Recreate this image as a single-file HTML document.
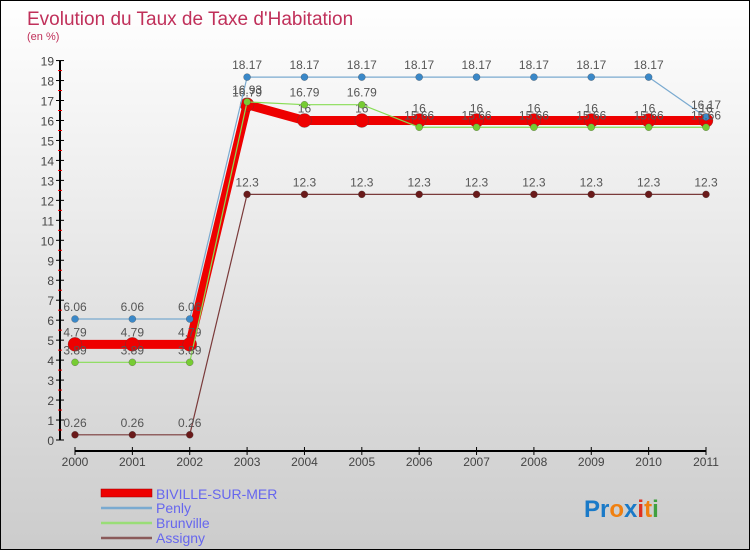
<!DOCTYPE html>
<html><head><meta charset="utf-8"><style>
body{margin:0;}
#c{position:relative;width:748px;height:548px;border:1px solid #000;background:linear-gradient(#fff,#ccc);font-family:"Liberation Sans",sans-serif;overflow:hidden}
</style></head><body>
<div id="c">
<svg id="s" width="748" height="548" xmlns="http://www.w3.org/2000/svg">
<text x="26" y="24" font-size="19" fill="#c0305a">Evolution du Taux de Taxe d'Habitation</text>
<text x="26" y="39" font-size="11" fill="#c0305a">(en %)</text>
<g id="g"></g>
<g>
<rect x="100" y="488" width="51" height="8" fill="#e00" stroke="#900" stroke-width="0.5"/>
<text x="155" y="498" font-size="14" fill="#6666ee">BIVILLE-SUR-MER</text>
<line x1="100" y1="507" x2="151" y2="507" stroke="#7aaad0" stroke-width="2.5"/>
<text x="155" y="512" font-size="14" fill="#6666ee">Penly</text>
<line x1="100" y1="522" x2="151" y2="522" stroke="#99dd77" stroke-width="2.5"/>
<text x="155" y="527" font-size="14" fill="#6666ee">Brunville</text>
<line x1="100" y1="537" x2="151" y2="537" stroke="#8a5a5a" stroke-width="2.5"/>
<text x="155" y="542" font-size="14" fill="#6666ee">Assigny</text>
</g>
<text x="583" y="516" font-size="24" font-weight="bold"><tspan fill="#1a7ac8">Pr</tspan><tspan fill="#f08010">o</tspan><tspan fill="#1a7ac8">x</tspan><tspan fill="#e03020">i</tspan><tspan fill="#f08010">t</tspan><tspan fill="#40a040">i</tspan></text>
</svg>
</div>
<script>
const years=[2000,2001,2002,2003,2004,2005,2006,2007,2008,2009,2010,2011];
const yTicks=[0,1,2,3,4,5,6,7,8,9,10,11,12,13,14,15,16,17,18,19];
const biville=[4.79,4.79,4.79,16.79,16,16,16,16,16,16,16,16];
const penly=[6.06,6.06,6.06,18.17,18.17,18.17,18.17,18.17,18.17,18.17,18.17,16.17];
const brunville=[3.89,3.89,3.89,16.93,16.79,16.79,15.66,15.66,15.66,15.66,15.66,15.66];
const assigny=[0.26,0.26,0.26,12.3,12.3,12.3,12.3,12.3,12.3,12.3,12.3,12.3];
const NS="http://www.w3.org/2000/svg";
const g=document.getElementById('g');
function X(i){return 74+i*(631/(years.length-1));}
function Y(v){return 439-v*19.97;}
function mk(t,a){const e=document.createElementNS(NS,t);for(const k in a)e.setAttribute(k,a[k]);g.appendChild(e);return e;}
let ya=mk('line',{x1:59,y1:Y(0),x2:59,y2:Y(19),stroke:'#000','stroke-width':2});


yTicks.forEach(t=>{
 const l=mk('line',{x1:55,y1:Y(t),x2:63,y2:Y(t),stroke:'#000','stroke-width':1});
 
 
 if(t<19){const m=mk('line',{x1:57,y1:Y(t+0.5),x2:61,y2:Y(t+0.5),stroke:'#e00','stroke-width':1});
 
 }
 const tx=mk('text',{x:53,y:Y(t)+5,'font-size':12,fill:'#444','text-anchor':'end'});tx.textContent=t;
 
 
});
let xa=mk('line',{x1:X(0),y1:450,x2:X(11),y2:450,stroke:'#000','stroke-width':2});


years.forEach((yr,i)=>{
 const l=mk('line',{x1:X(i),y1:446,x2:X(i),y2:454,stroke:'#000'});
 
 
 const tx=mk('text',{x:X(i),y:465,'font-size':12,fill:'#444','text-anchor':'middle'});tx.textContent=yr;
 
 
});
function series(d,col,w,r,dot,name){
 const p=mk('polyline',{points:d.map((v,i)=>X(i)+','+Y(v)).join(' '),fill:'none',stroke:col,'stroke-width':w,'stroke-linejoin':'round'});
 
 
 d.forEach((v,i)=>{
  const c=mk('circle',{cx:X(i),cy:Y(v),r:r,fill:dot,stroke:'#444','stroke-width':0.3});
  
  
  const t=mk('text',{x:X(i),y:Y(v)-8,'font-size':12,fill:'#555','text-anchor':'middle'});t.textContent=v;
  
  
 });
}
series(assigny,'#7a3a3a',1.2,3.5,'#6a1a1a','assigny');
series(biville,'#ee0000',9,7,'#ee0000','biville');
series(penly,'#7aaad0',1.2,3.5,'#3a88c8','penly');
series(brunville,'#88dd55',1.2,3.5,'#77cc33','brunville');
</script>
</body></html>
